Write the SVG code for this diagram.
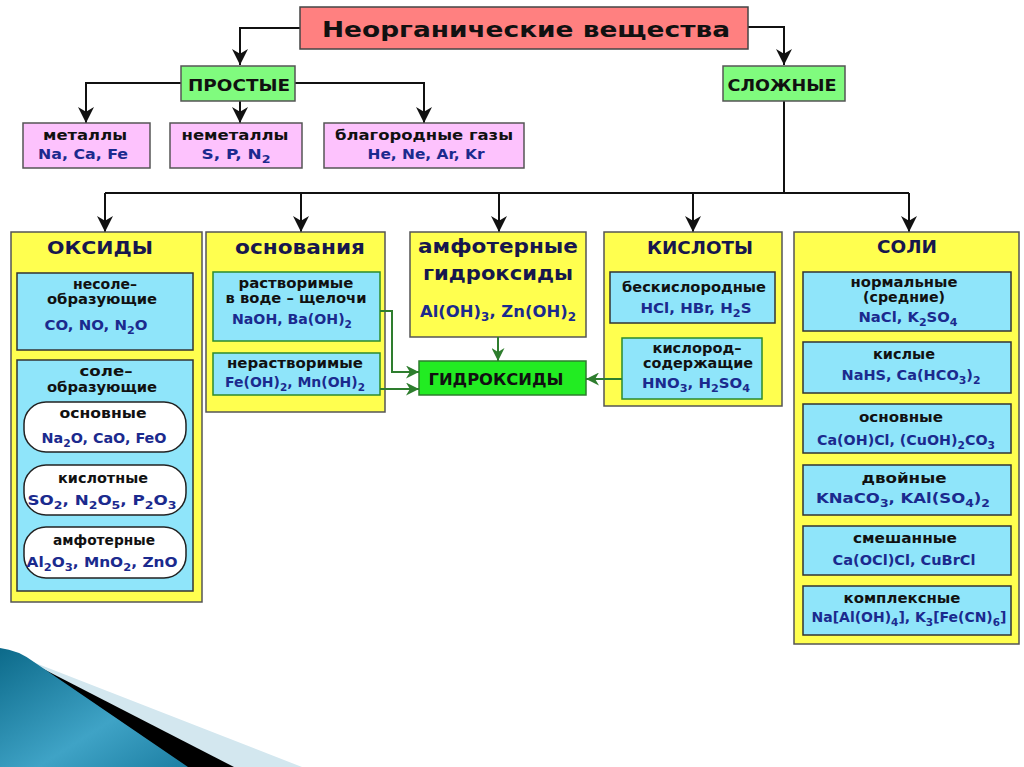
<svg xmlns="http://www.w3.org/2000/svg" width="1024" height="767" viewBox="0 0 1024 767">
<defs>
<style>
.t{font-family:"DejaVu Sans","Liberation Sans",sans-serif;font-weight:bold;text-anchor:middle}
.lb{font-size:14px;fill:#111}
.fm{font-size:14px;fill:#1b2a8e}
.hd{font-size:17px;fill:#17174d}
.hl{font-size:20px;fill:#17174d}
.sb{font-size:10.5px}
.sb2{font-size:12px}
.box{stroke:#444;stroke-width:1.5}
.yel{fill:#ffff4f;stroke:#555;stroke-width:1.5}
.cy{fill:#8fe5fa;stroke:#333;stroke-width:1.5}
.cyg{fill:#8fe5fa;stroke:#2d8a2d;stroke-width:1.5}
.pill{fill:#fff;stroke:#222;stroke-width:1.5}
.pk{fill:#fdc2fd;stroke:#555;stroke-width:1.5}
.gr{fill:#80fb7e;stroke:#555;stroke-width:1.5}
.blk{fill:none;stroke:#111;stroke-width:2;marker-end:url(#ab)}
.bl{fill:none;stroke:#111;stroke-width:2}
.grn{fill:none;stroke:#2e7d2e;stroke-width:2;marker-end:url(#ag)}
</style>
<marker id="ab" viewBox="0 0 10 10" refX="10" refY="5" markerWidth="16" markerHeight="16" markerUnits="userSpaceOnUse" orient="auto"><path d="M0,0 L10,5 L0,10 L3,5 Z" fill="#111"/></marker>
<marker id="ag" viewBox="0 0 10 10" refX="10" refY="5" markerWidth="13" markerHeight="13" markerUnits="userSpaceOnUse" orient="auto"><path d="M0,0 L10,5 L0,10 L3,5 Z" fill="#2e7d2e"/></marker>
<linearGradient id="teal" x1="0" y1="0" x2="1" y2="1">
<stop offset="0" stop-color="#0c6a8a"/><stop offset="0.6" stop-color="#3fa3c6"/><stop offset="1" stop-color="#1d7fa3"/>
</linearGradient>
</defs>
<rect width="1024" height="767" fill="#fff"/>

<g id="decor">
<path d="M20,657 L302,767 L0,767 Z" fill="#d3e7ef"/>
<path d="M20,657 L234,767 L0,767 Z" fill="#000"/>
<path d="M0,648 Q18,650 34,662 L188,767 L0,767 Z" fill="url(#teal)"/>
</g>

<g id="connectors">
<path class="blk" d="M300,28 H240 V65"/>
<path class="blk" d="M748,27 H784 V65"/>
<path class="blk" d="M181,83 H86 V123"/>
<path class="blk" d="M295,83 H424 V123"/>
<path class="blk" d="M240,101 V123"/>
<path class="bl" d="M784,101 V193 M105,193 H909"/>
<path class="blk" d="M105,193 V232"/>
<path class="blk" d="M301,193 V232"/>
<path class="blk" d="M499,193 V232"/>
<path class="blk" d="M693,193 V232"/>
<path class="blk" d="M909,193 V232"/>
</g>

<g id="title">
<rect x="300" y="7" width="448" height="42" fill="#ff8080" class="box"/>
<text class="t" x="526" y="37" font-size="21" fill="#111" textLength="408" lengthAdjust="spacingAndGlyphs">Неорганические вещества</text>
</g>
<g id="prostye">
<rect x="181" y="66" width="114" height="35" class="gr"/>
<text class="t" x="239" y="91" font-size="16" fill="#111" textLength="102" lengthAdjust="spacingAndGlyphs">ПРОСТЫЕ</text>
</g>
<g id="slozhnye">
<rect x="723" y="66" width="122" height="35" class="gr"/>
<text class="t" x="782" y="91" font-size="16" fill="#111" textLength="109" lengthAdjust="spacingAndGlyphs">СЛОЖНЫЕ</text>
</g>
<g id="metally">
<rect x="23" y="123" width="127" height="45" class="pk"/>
<text class="t lb" x="85" y="140" textLength="84" lengthAdjust="spacingAndGlyphs">металлы</text>
<text class="t fm" x="83" y="159" textLength="90" lengthAdjust="spacingAndGlyphs">Na, Ca, Fe</text>
</g>
<g id="nemetally">
<rect x="170" y="123" width="132" height="45" class="pk"/>
<text class="t lb" x="235" y="140" textLength="107" lengthAdjust="spacingAndGlyphs">неметаллы</text>
<text class="t fm" x="236" y="159" textLength="69" lengthAdjust="spacingAndGlyphs">S, P, N<tspan class="sb" dy="4">2</tspan></text>
</g>
<g id="gazy">
<rect x="324" y="123" width="200" height="45" class="pk"/>
<text class="t lb" x="424" y="140" textLength="178" lengthAdjust="spacingAndGlyphs">благородные газы</text>
<text class="t fm" x="426" y="159" textLength="117" lengthAdjust="spacingAndGlyphs">He, Ne, Ar, Kr</text>
</g>

<g id="oksidy">
<rect x="11" y="232" width="191" height="370" class="yel"/>
<text class="t hd" x="100" y="254" textLength="106" lengthAdjust="spacingAndGlyphs">ОКСИДЫ</text>
<rect x="17" y="273" width="176" height="77" class="cy"/>
<text class="t lb" x="105" y="289" textLength="64" lengthAdjust="spacingAndGlyphs">несоле–</text>
<text class="t lb" x="102" y="304" textLength="110" lengthAdjust="spacingAndGlyphs">образующие</text>
<text class="t fm" x="96" y="330" textLength="103" lengthAdjust="spacingAndGlyphs">CO, NO, N<tspan class="sb" dy="4">2</tspan><tspan dy="-4">O</tspan></text>
<rect x="17" y="360" width="176" height="231" class="cy"/>
<text class="t lb" x="106" y="376" textLength="53" lengthAdjust="spacingAndGlyphs">соле–</text>
<text class="t lb" x="102" y="392" textLength="110" lengthAdjust="spacingAndGlyphs">образующие</text>
<rect x="24" y="402" width="162" height="50" rx="22" class="pill"/>
<text class="t lb" x="103" y="418" textLength="87" lengthAdjust="spacingAndGlyphs">основные</text>
<text class="t fm" x="104" y="443" textLength="125" lengthAdjust="spacingAndGlyphs">Na<tspan class="sb" dy="4">2</tspan><tspan dy="-4">O, CaO, FeO</tspan></text>
<rect x="24" y="465" width="162" height="50" rx="22" class="pill"/>
<text class="t lb" x="103" y="483" textLength="90" lengthAdjust="spacingAndGlyphs">кислотные</text>
<text class="t fm" x="102" y="505" textLength="149" lengthAdjust="spacingAndGlyphs">SO<tspan class="sb" dy="4">2</tspan><tspan dy="-4">, N</tspan><tspan class="sb" dy="4">2</tspan><tspan dy="-4">O</tspan><tspan class="sb" dy="4">5</tspan><tspan dy="-4">, P</tspan><tspan class="sb" dy="4">2</tspan><tspan dy="-4">O</tspan><tspan class="sb" dy="4">3</tspan></text>
<rect x="24" y="527" width="162" height="51" rx="22" class="pill"/>
<text class="t lb" x="104" y="545" textLength="102" lengthAdjust="spacingAndGlyphs">амфотерные</text>
<text class="t fm" x="102" y="567" textLength="151" lengthAdjust="spacingAndGlyphs">Al<tspan class="sb" dy="4">2</tspan><tspan dy="-4">O</tspan><tspan class="sb" dy="4">3</tspan><tspan dy="-4">, MnO</tspan><tspan class="sb" dy="4">2</tspan><tspan dy="-4">, ZnO</tspan></text>
</g>

<g id="osnovaniya">
<rect x="206" y="232" width="179" height="180" class="yel"/>
<text class="t hl" x="300" y="254" textLength="130" lengthAdjust="spacingAndGlyphs">основания</text>
<rect x="213" y="272" width="167" height="69" class="cyg"/>
<text class="t lb" x="296" y="288" textLength="115" lengthAdjust="spacingAndGlyphs">растворимые</text>
<text class="t lb" x="296" y="303" textLength="141" lengthAdjust="spacingAndGlyphs">в воде – щелочи</text>
<text class="t fm" x="292" y="324" textLength="120" lengthAdjust="spacingAndGlyphs">NaOH, Ba(OH)<tspan class="sb" dy="4">2</tspan></text>
<rect x="213" y="353" width="167" height="42" class="cyg"/>
<text class="t lb" x="295" y="368" textLength="136" lengthAdjust="spacingAndGlyphs">нерастворимые</text>
<text class="t fm" x="295" y="387" textLength="140" lengthAdjust="spacingAndGlyphs">Fe(OH)<tspan class="sb" dy="4">2</tspan><tspan dy="-4">, Mn(OH)</tspan><tspan class="sb" dy="4">2</tspan></text>
</g>

<g id="amfoternye">
<rect x="410" y="232" width="176" height="105" class="yel"/>
<text class="t hl" x="498" y="253" textLength="160" lengthAdjust="spacingAndGlyphs">амфотерные</text>
<text class="t hl" x="498" y="280" textLength="150" lengthAdjust="spacingAndGlyphs">гидроксиды</text>
<text class="t" x="498" y="317" font-size="16.5" fill="#1b2a8e" textLength="156" lengthAdjust="spacingAndGlyphs">Al(OH)<tspan class="sb2" dy="4">3</tspan><tspan dy="-4">, Zn(OH)</tspan><tspan class="sb2" dy="4">2</tspan></text>
</g>

<g id="gidroksidy">
<rect x="419" y="361" width="167" height="34" fill="#22ec22" stroke="#2e7d2e" stroke-width="1.5"/>
<text class="t" x="496" y="385" font-size="16" fill="#111" textLength="135" lengthAdjust="spacingAndGlyphs">ГИДРОКСИДЫ</text>
</g>

<g id="kisloty">
<rect x="604" y="232" width="178" height="174" class="yel"/>
<text class="t hd" x="700" y="254" textLength="106" lengthAdjust="spacingAndGlyphs">КИСЛОТЫ</text>
<rect x="610" y="272" width="165" height="51" class="cy"/>
<text class="t lb" x="694" y="292" textLength="144" lengthAdjust="spacingAndGlyphs">бескислородные</text>
<text class="t fm" x="696" y="313" textLength="111" lengthAdjust="spacingAndGlyphs">HCl, HBr, H<tspan class="sb" dy="4">2</tspan><tspan dy="-4">S</tspan></text>
<rect x="622" y="338" width="140" height="61" class="cyg"/>
<text class="t lb" x="697" y="353" textLength="89" lengthAdjust="spacingAndGlyphs">кислород–</text>
<text class="t lb" x="698" y="368" textLength="110" lengthAdjust="spacingAndGlyphs">содержащие</text>
<text class="t fm" x="696" y="388" textLength="108" lengthAdjust="spacingAndGlyphs">HNO<tspan class="sb" dy="4">3</tspan><tspan dy="-4">, H</tspan><tspan class="sb" dy="4">2</tspan><tspan dy="-4">SO</tspan><tspan class="sb" dy="4">4</tspan></text>
</g>

<g id="soli">
<rect x="794" y="232" width="225" height="412" class="yel"/>
<text class="t hd" x="907" y="253" textLength="60" lengthAdjust="spacingAndGlyphs">СОЛИ</text>
<rect x="803" y="272" width="208" height="59" class="cy"/>
<text class="t lb" x="904" y="287" textLength="107" lengthAdjust="spacingAndGlyphs">нормальные</text>
<text class="t lb" x="904" y="302" textLength="82" lengthAdjust="spacingAndGlyphs">(средние)</text>
<text class="t fm" x="908" y="322" textLength="99" lengthAdjust="spacingAndGlyphs">NaCl, K<tspan class="sb" dy="4">2</tspan><tspan dy="-4">SO</tspan><tspan class="sb" dy="4">4</tspan></text>
<rect x="803" y="342" width="208" height="51" class="cy"/>
<text class="t lb" x="904" y="359" textLength="62" lengthAdjust="spacingAndGlyphs">кислые</text>
<text class="t fm" x="911" y="380" textLength="139" lengthAdjust="spacingAndGlyphs">NaHS, Ca(HCO<tspan class="sb" dy="4">3</tspan><tspan dy="-4">)</tspan><tspan class="sb" dy="4">2</tspan></text>
<rect x="803" y="404" width="208" height="49" class="cy"/>
<text class="t lb" x="901" y="422" textLength="84" lengthAdjust="spacingAndGlyphs">основные</text>
<text class="t fm" x="906" y="445" textLength="178" lengthAdjust="spacingAndGlyphs">Ca(OH)Cl, (CuOH)<tspan class="sb" dy="4">2</tspan><tspan dy="-4">CO</tspan><tspan class="sb" dy="4">3</tspan></text>
<rect x="803" y="465" width="208" height="50" class="cy"/>
<text class="t lb" x="904" y="483" textLength="85" lengthAdjust="spacingAndGlyphs">двойные</text>
<text class="t fm" x="903" y="503" textLength="174" lengthAdjust="spacingAndGlyphs">KNaCO<tspan class="sb" dy="4">3</tspan><tspan dy="-4">,  KAl(SO</tspan><tspan class="sb" dy="4">4</tspan><tspan dy="-4">)</tspan><tspan class="sb" dy="4">2</tspan></text>
<rect x="803" y="526" width="208" height="49" class="cy"/>
<text class="t lb" x="905" y="543" textLength="104" lengthAdjust="spacingAndGlyphs">смешанные</text>
<text class="t fm" x="904" y="565" textLength="143" lengthAdjust="spacingAndGlyphs">Ca(OCl)Cl, CuBrCl</text>
<rect x="803" y="586" width="208" height="49" class="cy"/>
<text class="t lb" x="902" y="603" textLength="117" lengthAdjust="spacingAndGlyphs">комплексные</text>
<text class="t fm" x="909" y="622" textLength="195" lengthAdjust="spacingAndGlyphs">Na[Al(OH)<tspan class="sb" dy="4">4</tspan><tspan dy="-4">], K</tspan><tspan class="sb" dy="4">3</tspan><tspan dy="-4">[Fe(CN)</tspan><tspan class="sb" dy="4">6</tspan><tspan dy="-4">]</tspan></text>
</g>

<g id="green-connectors">
<path class="grn" d="M380,311 H392 V372 H419"/>
<path class="grn" d="M380,389 H419"/>
<path class="grn" d="M498,337 V361"/>
<path class="grn" d="M622,379 H586"/>
</g>
</svg>
